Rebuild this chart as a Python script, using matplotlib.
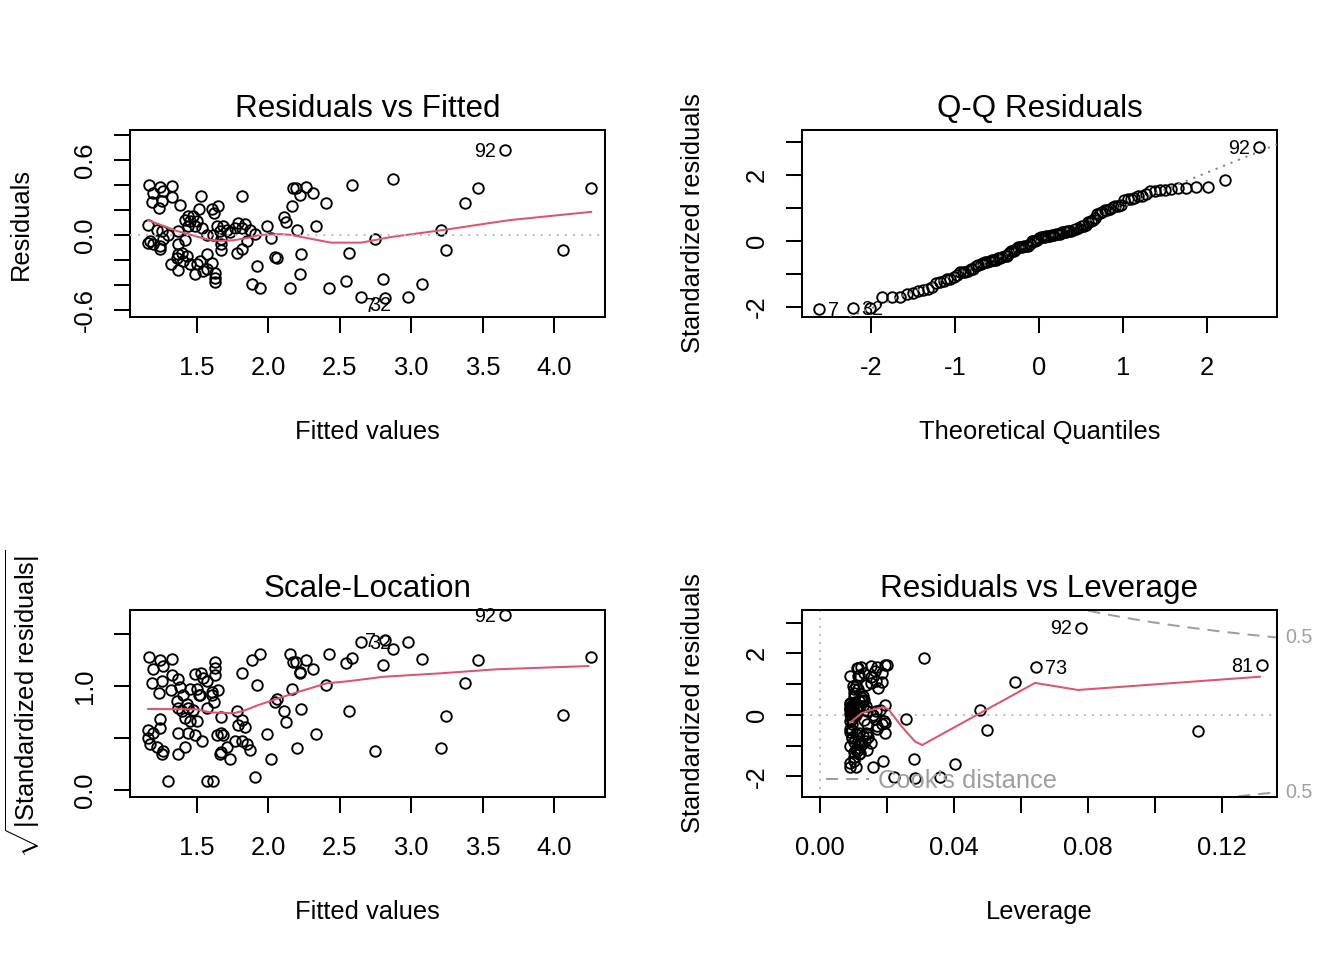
import numpy as np
import matplotlib
matplotlib.use('Agg')
import matplotlib.pyplot as plt
from matplotlib.lines import Line2D
from matplotlib.transforms import blended_transform_factory
from statistics import NormalDist

plt.rcParams['font.family'] = ['Liberation Sans', 'DejaVu Sans']
plt.rcParams['mathtext.fontset'] = 'custom'
plt.rcParams['mathtext.rm'] = 'Liberation Sans'
plt.rcParams['mathtext.it'] = 'Liberation Sans:italic'
plt.rcParams['mathtext.bf'] = 'Liberation Sans:bold'

fitted = np.array([
    1.164, 1.241, 1.323, 1.194, 1.264, 1.323, 1.187, 1.253, 1.381, 1.234,
    1.528, 1.813, 1.514, 1.603, 1.649, 1.621, 1.437, 1.472, 1.416, 1.451,
    1.498, 1.486, 1.533, 1.439, 1.159, 1.218, 1.253, 1.299, 1.369, 1.638,
    1.684, 1.661, 1.708, 1.731, 1.789, 1.836, 1.766, 1.813, 1.871, 1.568,
    1.614, 1.159, 1.194, 1.241, 1.171, 1.264, 1.241, 1.369, 1.416, 1.393,
    1.428, 1.358, 1.404, 1.369, 1.318, 1.369, 1.451, 1.498, 1.521, 1.568,
    1.603, 1.486, 1.544, 1.568, 1.626, 1.626, 1.626, 1.668, 1.668, 1.668,
    1.778, 1.813, 1.883, 1.920, 1.906, 1.853, 1.990, 2.018, 1.943, 2.046,
    2.060, 2.108, 2.125, 2.167, 2.172, 2.193, 2.219, 2.266, 2.309, 2.197,
    2.230, 2.221, 2.148, 2.332, 2.403, 2.426, 2.545, 2.561, 2.585, 2.646,
    2.745, 2.805, 2.817, 2.875, 2.980, 3.074, 3.208, 3.241, 3.377, 3.470,
    3.654, 4.062, 4.256])

residuals = np.array([
    0.402, 0.384, 0.394, 0.336, 0.350, 0.304, 0.262, 0.270, 0.242, 0.216,
    0.314, 0.314, 0.208, 0.206, 0.230, 0.176, 0.154, 0.148, 0.118, 0.110,
    0.110, 0.070, 0.056, 0.074, 0.082, 0.042, 0.030, 0.002, 0.030, 0.070,
    0.070, 0.030, 0.042, 0.022, 0.096, 0.090, 0.056, 0.056, 0.036, 0.002,
    0.002, -0.062, -0.074, -0.088, -0.048, -0.034, -0.114, -0.074, -0.042, -0.142,
    -0.168, -0.182, -0.208, -0.154, -0.230, -0.282, -0.234, -0.234, -0.208, -0.154,
    -0.222, -0.310, -0.288, -0.274, -0.302, -0.342, -0.374, -0.122, -0.074, -0.034,
    -0.142, -0.114, -0.390, -0.252, 0.004, -0.048, 0.072, -0.022, -0.422, -0.176,
    -0.188, 0.144, 0.106, 0.232, 0.376, 0.376, 0.320, 0.386, 0.334, 0.040,
    -0.150, -0.314, -0.422, 0.072, 0.254, -0.422, -0.368, -0.142, 0.398, -0.500,
    -0.034, -0.354, -0.508, 0.450, -0.494, -0.390, 0.040, -0.122, 0.258, 0.378,
    0.680, -0.122, 0.378])

# observation ids of the labelled points (index in the arrays -> row name)
point_ids = {99: '32', 102: '7', 109: '73', 110: '92', 112: '81'}
ids_resid = ['92', '7', '32']      # labelled in panels 1-3
ids_cook = ['92', '73', '81']      # labelled in panel 4

# smoother (red) lines
rvf_smooth_x = [1.159, 1.358, 1.568, 1.661, 1.754, 1.871, 1.941, 2.084, 2.155,
                2.438, 2.651, 2.863, 3.217, 3.689, 4.260]
rvf_smooth_y = [0.117, 0.032, -0.035, -0.048, -0.043, -0.021, 0.0, 0.006, 0.0,
                -0.062, -0.062, -0.016, 0.038, 0.118, 0.184]
sl_smooth_x = [1.159, 1.498, 1.591, 1.754, 1.824, 1.918, 2.034, 2.198, 2.408,
               2.571, 2.805, 3.202, 3.599, 4.240]
sl_smooth_y = [0.779, 0.776, 0.747, 0.738, 0.760, 0.811, 0.865, 0.939, 1.026,
               1.048, 1.089, 1.122, 1.161, 1.192]
lev_smooth_x = [0.0090, 0.0124, 0.0154, 0.0189, 0.0204, 0.0244, 0.0284, 0.0305,
                0.0642, 0.0770, 0.1313]
lev_smooth_y = [-0.25, 0.055, 0.163, 0.25, 0.185, -0.38, -0.87, -0.98,
                1.04, 0.81, 1.24]
cook_levels = [0.5]

# ---------------- derived diagnostics (as R's plot.lm) ----------------
n = len(fitted)
n_coef = 2
fbar = fitted.mean()
hat = 1.0 / n + (fitted - fbar) ** 2 / np.sum((fitted - fbar) ** 2)
sigma = np.sqrt(np.sum(residuals ** 2) / (n - n_coef))
std_res = residuals / (sigma * np.sqrt(1 - hat))
sqrt_abs = np.sqrt(np.abs(std_res))
order = np.argsort(std_res)
probs = (np.arange(1, n + 1) - 0.5) / n
theo_q = np.array([NormalDist().inv_cdf(p) for p in probs])
qq_sample = std_res[order]
rank = np.empty(n, dtype=int)
rank[order] = np.arange(n)
id_index = {v: k for k, v in point_ids.items()}

# ---------------- styling ----------------
W, H = 1344, 960
RED = '#DF536B'
LW = 1.45
MS = 7.6
MEW = 1.35
FS = 18.4
TFS = 22.6
IDFS = 14.2
DOT = (0, (1, 3))
DASH = (0, (6, 4))

fig = plt.figure(figsize=(W / 100, H / 100), dpi=100)


def add_ax(x0, y0, x1, y1):
    return fig.add_axes([x0 / W, 1 - y1 / H, (x1 - x0) / W, (y1 - y0) / H])


def style(ax, xt, xl, yt, yl, title, xlabel, ylabel, ylabel_math=False):
    ax.set_xticks(xt, xl)
    ax.set_yticks(yt, yl, rotation=90, va='center', ha='right')
    ax.tick_params(axis='both', direction='out', length=11.8, width=LW,
                   labelsize=FS, color='black')
    ax.tick_params(axis='x', pad=16.0)
    ax.tick_params(axis='y', pad=12.0)
    for s in ax.spines.values():
        s.set_linewidth(LW)
    ax.text(0.5, 1.0695, title, transform=ax.transAxes, ha='center',
            va='baseline', fontsize=TFS)
    ax.set_xlabel(xlabel, fontsize=FS, va='baseline')
    ax.xaxis.set_label_coords(0.5, -0.655)
    ax.set_ylabel(ylabel, fontsize=FS, va='baseline')
    ax.yaxis.set_label_coords(-0.2150 if not ylabel_math else -0.200, 0.5)


def label(ax, x, y, text, dy=0.0):
    xl = ax.get_xlim()
    left = x > (xl[0] + xl[1]) / 2
    ax.annotate(text, (x, y), xytext=(-6.5 if left else 6.5, dy - 1.0),
                textcoords='offset points', ha='right' if left else 'left',
                va='center', fontsize=IDFS, annotation_clip=False)


# ---- Panel 1: Residuals vs Fitted ----
ax1 = add_ax(130, 130, 605, 317)
ax1.set_xlim(1.031, 4.357)
ax1.set_ylim(-0.656, 0.838)
ax1.plot(fitted, residuals, 'o', mfc='none', mec='black', ms=MS, mew=MEW, zorder=2)
ax1.plot(rvf_smooth_x, rvf_smooth_y, color=RED, lw=LW, zorder=3)
ax1.axhline(0, color='#BEBEBE', lw=LW, ls=DOT, zorder=4)
style(ax1, [1.5, 2.0, 2.5, 3.0, 3.5, 4.0], ['1.5', '2.0', '2.5', '3.0', '3.5', '4.0'],
      [-0.6, -0.4, -0.2, 0.0, 0.2, 0.4, 0.6, 0.8], ['-0.6', '', '', '0.0', '', '', '0.6', ''],
      'Residuals vs Fitted', 'Fitted values', 'Residuals')
for pid in ids_resid:
    i = id_index[pid]
    label(ax1, fitted[i], residuals[i], pid, dy=-5.0 if residuals[i] < 0 else 0.0)

# ---- Panel 2: Q-Q Residuals ----
ax2 = add_ax(802, 130, 1277, 317)
ax2.set_xlim(-2.821, 2.833)
ax2.set_ylim(-2.303, 3.364)
ax2.plot(theo_q, qq_sample, 'o', mfc='none', mec='black', ms=MS, mew=MEW, zorder=2)
q_y = np.quantile(std_res, [0.25, 0.75])
q_x = np.array([NormalDist().inv_cdf(0.25), NormalDist().inv_cdf(0.75)])
slope = (q_y[1] - q_y[0]) / (q_x[1] - q_x[0])
ax2.axline((q_x[0], q_y[0]), slope=slope, color='#7F7F7F', lw=LW, ls=DOT, zorder=3)
style(ax2, [-2, -1, 0, 1, 2], ['-2', '-1', '0', '1', '2'],
      [-2, -1, 0, 1, 2, 3], ['-2', '', '0', '', '2', ''],
      'Q-Q Residuals', 'Theoretical Quantiles', 'Standardized residuals')
for pid in ids_resid:
    i = id_index[pid]
    label(ax2, theo_q[rank[i]], qq_sample[rank[i]], pid)

# ---- Panel 3: Scale-Location ----
ax3 = add_ax(130, 610, 605, 797)
ax3.set_xlim(1.031, 4.357)
ax3.set_ylim(-0.067, 1.731)
ax3.plot(fitted, sqrt_abs, 'o', mfc='none', mec='black', ms=MS, mew=MEW, zorder=2)
ax3.plot(sl_smooth_x, sl_smooth_y, color=RED, lw=LW, zorder=3)
style(ax3, [1.5, 2.0, 2.5, 3.0, 3.5, 4.0], ['1.5', '2.0', '2.5', '3.0', '3.5', '4.0'],
      [0.0, 0.5, 1.0, 1.5], ['0.0', '', '1.0', ''],
      'Scale-Location', 'Fitted values',
      r'$\sqrt{|\mathrm{Standardized\ residuals}|}$', ylabel_math=True)
for pid in ids_resid:
    i = id_index[pid]
    label(ax3, fitted[i], sqrt_abs[i], pid)

# ---- Panel 4: Residuals vs Leverage ----
ax4 = add_ax(802, 610, 1277, 797)
xlim4 = (-0.00537, 0.1364)
ax4.set_xlim(*xlim4)
ax4.set_ylim(-2.67, 3.41)
ax4.plot(hat, std_res, 'o', mfc='none', mec='black', ms=MS, mew=MEW, zorder=2)
ax4.plot(lev_smooth_x, lev_smooth_y, color=RED, lw=LW, zorder=3)
ax4.axhline(0, color='#BEBEBE', lw=LW, ls=DOT, zorder=1)
ax4.axvline(0, color='#BEBEBE', lw=LW, ls=DOT, zorder=1)
hh = np.linspace(min(hat.min(), hat.max() / 100), xlim4[1], 101)
btf = blended_transform_factory(ax4.transAxes, ax4.transData)
for crit in cook_levels:
    cl = np.sqrt(crit * n_coef * (1 - hh) / hh)
    ax4.plot(hh, cl, color='#9E9E9E', lw=LW, ls=DASH, zorder=1)
    ax4.plot(hh, -cl, color='#9E9E9E', lw=LW, ls=DASH, zorder=1)
    edge = np.sqrt(crit * n_coef * (1 - xlim4[1]) / xlim4[1])
    for yv in (edge, -edge):
        ax4.text(1.0 + 8 / 475, yv, f'{crit}', transform=btf, ha='left',
                 va='center', fontsize=IDFS, color='#9E9E9E', clip_on=False)
style(ax4, [0.0, 0.02, 0.04, 0.06, 0.08, 0.10, 0.12],
      ['0.00', '', '0.04', '', '0.08', '', '0.12'],
      [-2, -1, 0, 1, 2, 3], ['-2', '', '0', '', '2', ''],
      'Residuals vs Leverage', 'Leverage', 'Standardized residuals')
handle = Line2D([], [], color='#9E9E9E', lw=LW, ls=DASH)
ax4.legend([handle], ["Cook's distance"], loc='center left',
           bbox_to_anchor=(24 / 475, 16 / 187), frameon=False, fontsize=FS,
           labelcolor='#9E9E9E', borderpad=0, borderaxespad=0,
           handlelength=1.67, handletextpad=0.38)
for pid in ids_cook:
    i = id_index[pid]
    label(ax4, hat[i], std_res[i], pid)

fig.savefig('out.png', dpi=100)
